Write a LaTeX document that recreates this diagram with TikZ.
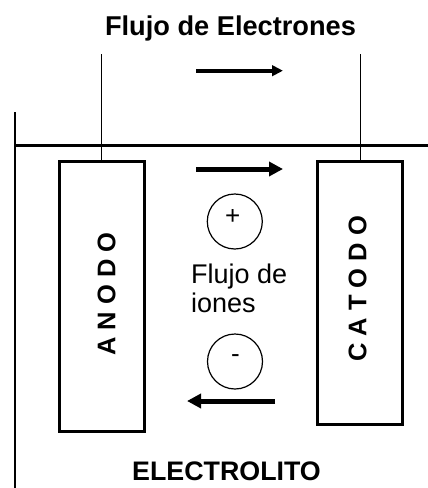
\documentclass[tikz,border=0pt]{standalone}
\usepackage{fontspec}
\setmainfont{Liberation Sans}
\usetikzlibrary{arrows.meta}

\begin{document}
\begin{tikzpicture}[x=1pt, y=-1pt,
  caja/.style={draw, line width=2.8pt, inner sep=0pt, minimum width=85pt},
  letrero/.style={font=\bfseries\fontsize{25.5}{30}\selectfont, rotate=90, inner sep=0pt},
  texto/.style={font=\fontsize{27}{30}\selectfont, inner sep=0pt},
  ion/.style={draw, circle, line width=1.2pt, inner sep=0pt, minimum size=55pt},
  signo/.style={font=\fontsize{26}{30}\selectfont, inner sep=0pt, anchor=base},
  flecha/.style={line width=5pt, -{Triangle[length=14pt,width=14pt]}}]
\useasboundingbox (0,0) rectangle (428,488);

% recipiente
\draw[line width=2.8pt] (15,112) -- (15,488);
\draw[line width=2.8pt] (14,145.5) -- (428,145.5);

% electrodos
\node[caja, minimum height=270pt] (anodo) at (101.7,296.8) {};
\node[caja, minimum height=263pt] (catodo) at (360,293) {};
\node[letrero] (anodotxt) at (106.7,294) {A N O D O};
\node[letrero] (catodotxt) at (357.5,289) {C A T O D O};

% conductores
\coordinate (anodoarriba) at (101.7,54);
\coordinate (catodoarriba) at (360,54);
\draw[line width=0.8pt] (anodo.north) -- (anodoarriba);
\draw[line width=0.8pt] (catodo.north) -- (catodoarriba);

% flujo de electrones
\node[texto, font=\bfseries\fontsize{27.2}{30}\selectfont, anchor=base] (titulo) at (230.5,35) {Flujo de Electrones};
\coordinate (e1) at (196,70.7);
\coordinate (e2) at (283,70.7);
\draw[line width=4pt, -{Triangle[length=11pt,width=10.5pt]}] (e1) -- (e2);

% flujo de iones
\coordinate (i1) at (196,169);
\coordinate (i2) at (283,169);
\draw[flecha] (i1) -- (i2);
\node[ion] (mas) at (234.8,221.5) {};
\node[signo] (mastxt) at (232.7,224.2) {+};
\node[texto, anchor=base west] (flujo1) at (191,283) {Flujo de};
\node[texto, anchor=base west] (flujo2) at (191,312) {iones};
\node[ion] (menos) at (235,361.5) {};
\node[signo] (menostxt) at (235.5,362.3) {-};
\coordinate (i3) at (275,401);
\coordinate (i4) at (187,401);
\draw[flecha] (i3) -- (i4);

\node[texto, font=\bfseries\fontsize{26.8}{30}\selectfont, anchor=base] (electrolito) at (226.5,480.7) {ELECTROLITO};
\end{tikzpicture}
\end{document}
